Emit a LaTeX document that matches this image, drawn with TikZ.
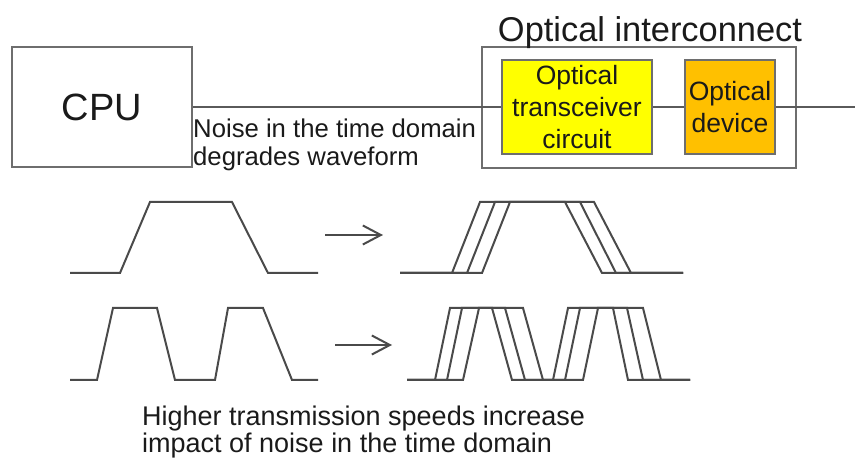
\documentclass[tikz,border=0pt]{standalone}
\usepackage{fontspec}
\setmainfont{Liberation Sans}
\usetikzlibrary{arrows.meta}
\definecolor{boxline}{HTML}{6E6E6E}
\definecolor{wireline}{HTML}{5A5A5A}
\definecolor{waveline}{HTML}{4A4A4A}
\definecolor{trxfill}{HTML}{FFFF00}
\definecolor{devfill}{HTML}{FFC000}
\definecolor{inktext}{HTML}{1A1A1A}
\tikzset{
  blockbox/.style={draw=boxline, line width=2pt, inner sep=0pt, align=center, text=inktext},
  wire/.style={draw=wireline, line width=2pt},
  wave/.style={draw=waveline, line width=2pt, line join=miter},
  flowarrow/.style={draw=waveline, line width=2pt, -{Straight Barb[length=18pt,width=19pt,line width=2pt]}},
  plaintext/.style={inner sep=0pt, text=inktext, align=left}
}
\begin{document}
\begin{tikzpicture}[x=1pt,y=-1pt]
\useasboundingbox (0,0) rectangle (855,462);
% outer interconnect box
\node[blockbox, minimum width=314pt, minimum height=121pt] (oic) at (639,107.5) {};
\node[inner sep=0pt, anchor=base, text=inktext, font=\fontsize{34.4}{40}\selectfont] (oictitle) at (650,42) {Optical interconnect};
% CPU
\node[blockbox, minimum width=180pt, minimum height=120pt, font=\fontsize{38}{44}\selectfont] (cpu) at (102,107) {CPU};
% transceiver and device
\node[blockbox, fill=trxfill, minimum width=150pt, minimum height=94pt, font=\fontsize{26.5}{32}\selectfont] (trx) at (577,107) {Optical\\transceiver\\circuit};
\node[blockbox, fill=devfill, minimum width=90pt, minimum height=94pt, font=\fontsize{26.5}{32}\selectfont] (dev) at (730,107) {Optical\\device};
\coordinate (rightend) at (855,107);
\draw[wire] (cpu.east) -- (trx.west);
\draw[wire] (trx.east) -- (dev.west);
\draw[wire] (dev.east) -- (rightend);
% noise label
\node[plaintext, anchor=west, font=\fontsize{25.7}{28}\selectfont] (noise) at (193,144.5) {Noise in the time domain\\degrades waveform};
% waveforms, left
\draw[wave] (70,273) -- (120,273) -- (150,202) -- (232,202) -- (268,273) -- (318,273);
\draw[wave] (70,380) -- (97,380) -- (113,308) -- (157,308) -- (175,380) -- (215,380) -- (228,308) -- (263,308) -- (292,380) -- (318,380);
% arrows
\coordinate (a1s) at (325,235);
\coordinate (a1e) at (383,235);
\coordinate (a2s) at (335,345);
\coordinate (a2e) at (392,345);
\draw[flowarrow] (a1s) -- (a1e);
\draw[flowarrow] (a2s) -- (a2e);
% waveforms, right (jittered)
\draw[wave] (400,273) -- (452,273) -- (480,202) -- (565,202) -- (602,273) -- (683,273);
\draw[wave] (400,273) -- (467,273) -- (495,202) -- (580,202) -- (616,273) -- (683,273);
\draw[wave] (400,273) -- (482,273) -- (510,202) -- (594,202) -- (631,273) -- (683,273);
\draw[wave] (407,380) -- (435,380) -- (450,308) -- (492,308) -- (512,380) -- (553,380) -- (568,308) -- (613,308) -- (628,380) -- (690,380);
\draw[wave] (407,380) -- (447,380) -- (462,308) -- (505,308) -- (525,380) -- (565,380) -- (580,308) -- (627,308) -- (643,380) -- (690,380);
\draw[wave] (407,380) -- (463,380) -- (479,308) -- (523,308) -- (543,380) -- (583,380) -- (598,308) -- (643,308) -- (661,380) -- (690,380);
% bottom label
\node[plaintext, anchor=west, font=\fontsize{27}{27}\selectfont] (speed) at (142,431.6) {Higher transmission speeds increase\\impact of noise in the time domain};
\end{tikzpicture}
\end{document}
